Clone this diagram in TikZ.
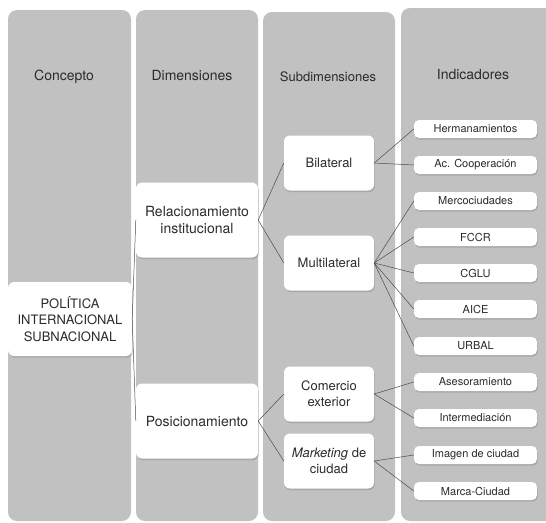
\documentclass[tikz,border=0pt]{standalone}
\usepackage{fontspec}
\setmainfont{TeX Gyre Heros}
\usetikzlibrary{shadows}
\definecolor{colgray}{HTML}{C0C1C0}
\definecolor{inkgray}{HTML}{2B2B2B}

\begin{document}
\begin{tikzpicture}[x=1pt,y=-1pt,
  column/.style={fill=colgray,draw=none,rounded corners=9pt},
  header/.style={text=inkgray,font=\fontsize{14}{16}\selectfont},
  box/.style={fill=white,rounded corners=6pt,text=inkgray,align=center,inner sep=0pt,
    drop shadow={opacity=0.4,shadow xshift=0.8pt,shadow yshift=-1.6pt}},
  concept/.style={box,minimum width=124pt,minimum height=74pt,font=\fontsize{13}{16.5}\selectfont},
  dimbox/.style={box,minimum width=122pt,minimum height=75pt,font=\fontsize{14}{16.5}\selectfont},
  subbox/.style={box,minimum width=90pt,minimum height=55pt,font=\fontsize{13}{16}\selectfont},
  indbox/.style={box,rounded corners=5pt,minimum width=123pt,minimum height=18pt,font=\fontsize{11}{13}\selectfont},
  link/.style={draw=inkgray!85,line width=0.5pt}]
\useasboundingbox (0,0) rectangle (546,522);
\clip (0,0) rectangle (546,522);

\fill[column] (8,10) rectangle (131,521);
\fill[column] (136,10) rectangle (258,521);
\fill[column] (263,12) rectangle (395,521);
\fill[column] (401,8) rectangle (556,521);

\node[header] (hconc) at (64,77) {Concepto};
\node[header] (hdim) at (192,76) {Dimensiones};
\node[header,font=\fontsize{13}{16}\selectfont] (hsub) at (328,77) {Subdimensiones};
\node[header] (hind) at (473,75) {Indicadores};

\node[concept] (politica) at (70,319) {POLÍTICA\\INTERNACIONAL\\SUBNACIONAL};

\node[dimbox] (relac) at (197,220) {Relacionamiento\\institucional};
\node[dimbox] (posic) at (197,421) {Posicionamiento};

\node[subbox] (bilat) at (329,163) {Bilateral};
\node[subbox] (multi) at (329,263) {Multilateral};
\node[subbox] (comer) at (329,394) {Comercio\\exterior};
\node[subbox] (mkt) at (329,461) {\textit{Marketing} de\\ciudad};

\node[indbox] (herman) at (475.5,129) {Hermanamientos};
\node[indbox] (cooper) at (475.5,165) {Ac. Cooperación};
\node[indbox] (merco) at (475.5,201) {Mercociudades};
\node[indbox] (fccr) at (475.5,237) {FCCR};
\node[indbox] (cglu) at (475.5,273) {CGLU};
\node[indbox] (aice) at (475.5,309) {AICE};
\node[indbox] (urbal) at (475.5,346) {URBAL};
\node[indbox] (aseso) at (475.5,382) {Asesoramiento};
\node[indbox] (interm) at (475.5,418) {Intermediación};
\node[indbox] (imagen) at (475.5,455) {Imagen de ciudad};
\node[indbox] (marca) at (475.5,491) {Marca-Ciudad};

\draw[link] (politica.east) -- (relac.west);
\draw[link] (politica.east) -- (posic.west);
\draw[link] (relac.east) -- (bilat.west);
\draw[link] (relac.east) -- (multi.west);
\draw[link] (posic.east) -- (comer.west);
\draw[link] (posic.east) -- (mkt.west);
\draw[link] (bilat.east) -- (herman.west);
\draw[link] (bilat.east) -- (cooper.west);
\draw[link] (multi.east) -- (merco.west);
\draw[link] (multi.east) -- (fccr.west);
\draw[link] (multi.east) -- (cglu.west);
\draw[link] (multi.east) -- (aice.west);
\draw[link] (multi.east) -- (urbal.west);
\draw[link] (comer.east) -- (aseso.west);
\draw[link] (comer.east) -- (interm.west);
\draw[link] (mkt.east) -- (imagen.west);
\draw[link] (mkt.east) -- (marca.west);
\end{tikzpicture}
\end{document}
